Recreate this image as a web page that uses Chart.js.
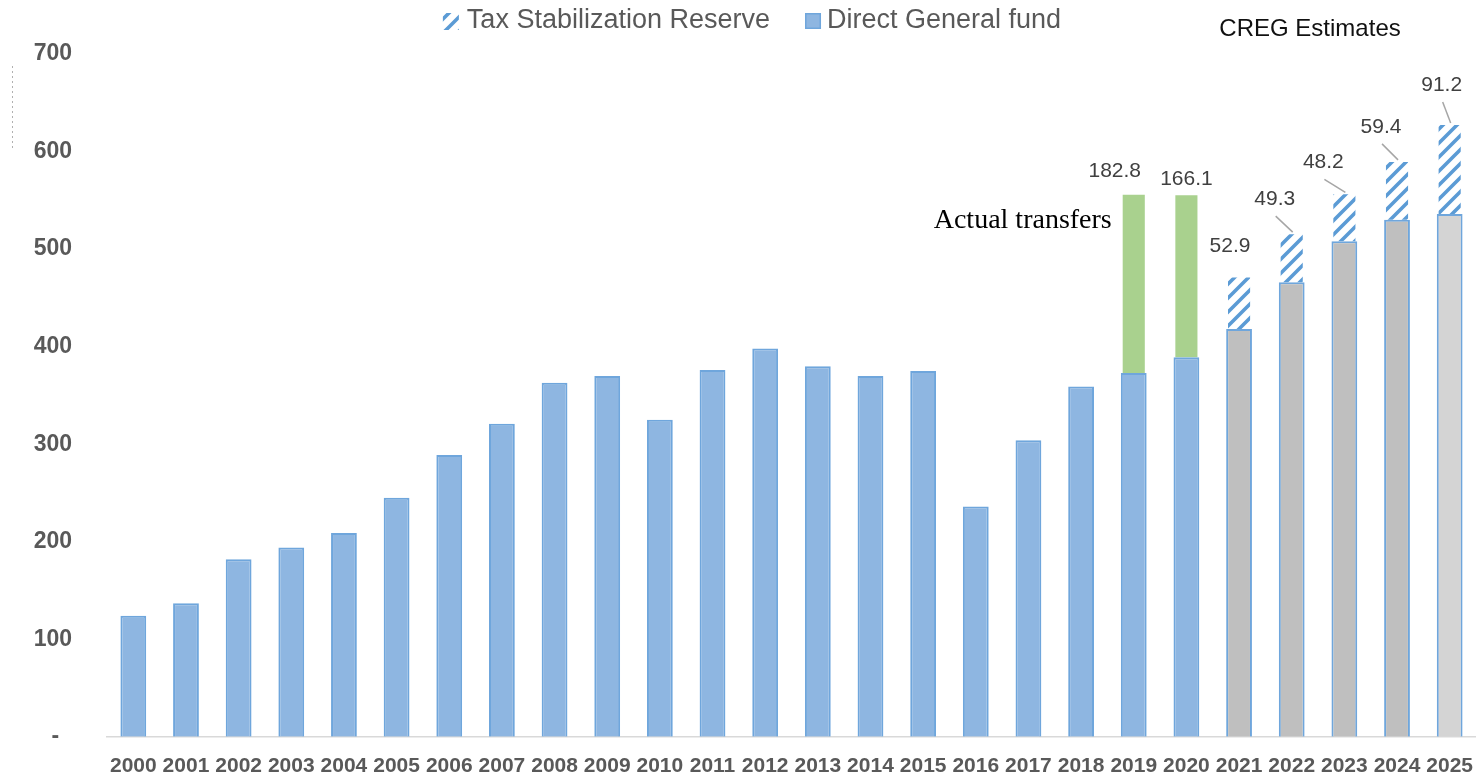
<!DOCTYPE html>
<html>
<head>
<meta charset="utf-8">
<script src="https://cdn.jsdelivr.net/npm/chart.js@4.4.0/dist/chart.umd.min.js"></script>
<style>
html, body { margin: 0; padding: 0; background: #fff; }
#wrap { width: 1476px; height: 778px; position: relative; }
</style>
</head>
<body>
<div id="wrap"><canvas id="chart"></canvas></div>
<script>
var years = ['2000', '2001', '2002', '2003', '2004', '2005', '2006', '2007', '2008', '2009',
    '2010', '2011', '2012', '2013', '2014', '2015', '2016', '2017', '2018', '2019',
    '2020', '2021', '2022', '2023', '2024', '2025'];

var directGeneralFund = [124, 137, 182, 194, 209, 245, 289, 321, 363, 370,
    325, 376, 398, 380, 370, 375, 236, 304, 359, 373,
    389, 418, 466, 508, 530, 536];

var actualTransfers = [null, null, null, null, null, null, null, null, null, null,
    null, null, null, null, null, null, null, null, null, 182.8,
    166.1, null, null, null, null, null];

var taxStabilizationReserve = [null, null, null, null, null, null, null, null, null, null,
    null, null, null, null, null, null, null, null, null, null,
    null, 52.9, 49.3, 48.2, 59.4, 91.2];

var yTicks = [0, 100, 200, 300, 400, 500, 600, 700];

var BLUE = 'rgb(142,182,225)';
var BLUE_EDGE = '#6fa6dc';
var HATCH = '#5b9bd5';
var GREY = '#bfbfbf';
var GREY_LIGHT = '#d4d4d4';
var GREEN = '#a9d18e';
var FONT = '"Liberation Sans", Arial, sans-serif';

// label offsets from the top of each bar: [dx, dy, leader line]
var labelOffsets = {
    '2019': [-19, -23, false],
    '2020': [0, -16, false],
    '2021': [-9, -31, false],
    '2022': [-17, -35, true],
    '2023': [-21, -32, true],
    '2024': [-16, -35, true],
    '2025': [-8, -40, true]
};

var canvas = document.getElementById('chart');
var ctx = canvas.getContext('2d');

function makeHatch(color) {
    var tile = document.createElement('canvas');
    tile.width = 14;
    tile.height = 14;
    var g = tile.getContext('2d');
    g.strokeStyle = color;
    g.lineWidth = 3.6;
    g.beginPath();
    g.moveTo(-2, 16); g.lineTo(16, -2);
    g.moveTo(-9, 9); g.lineTo(9, -9);
    g.moveTo(5, 23); g.lineTo(23, 5);
    g.stroke();
    return ctx.createPattern(tile, 'repeat');
}

var hatch = makeHatch(HATCH);

var directColors = years.map(function (y) {
    var n = parseInt(y, 10);
    if (n <= 2020) return BLUE;
    if (n === 2025) return GREY_LIGHT;
    return GREY;
});

var overlay = {
    id: 'overlay',
    afterDatasetsDraw: function (chart) {
        var c = chart.ctx;
        var xs = chart.scales.x, ys = chart.scales.y;
        c.save();

        // value labels on the transfer and reserve bars
        c.font = '21px ' + FONT;
        c.fillStyle = '#404040';
        c.textAlign = 'center';
        c.textBaseline = 'middle';
        [1, 2].forEach(function (di) {
            var vals = chart.data.datasets[di].data;
            chart.getDatasetMeta(di).data.forEach(function (bar, i) {
                if (vals[i] == null) return;
                var off = labelOffsets[years[i]];
                var lx = bar.x + off[0], ly = bar.y + off[1];
                if (off[2]) {
                    c.strokeStyle = '#a6a6a6';
                    c.lineWidth = 1.5;
                    c.beginPath();
                    c.moveTo(lx + 1, ly + 17);
                    c.lineTo(bar.x + 1, bar.y - 2);
                    c.stroke();
                }
                c.fillText(vals[i].toFixed(1), lx, ly);
            });
        });

        // annotations
        c.fillStyle = '#000';
        c.font = '28px "Liberation Serif", "Times New Roman", serif';
        c.textAlign = 'right';
        c.fillText('Actual transfers', xs.getPixelForValue(19) - 22, ys.getPixelForValue(529));

        c.fillStyle = '#111';
        c.font = '24px ' + FONT;
        c.textAlign = 'center';
        c.fillText('CREG Estimates', (xs.getPixelForValue(22) + xs.getPixelForValue(23)) / 2 - 8, 29);

        // legend
        var t1 = chart.data.datasets[2].label, t2 = chart.data.datasets[0].label;
        c.font = '27px ' + FONT;
        c.fillStyle = '#595959';
        c.textAlign = 'left';
        var w1 = c.measureText(t1).width, w2 = c.measureText(t2).width;
        var total = 16 + 8 + w1 + 35 + 16 + 6 + w2;
        var lx0 = 752 - total / 2, ly0 = 21;
        c.fillStyle = hatch;
        c.fillRect(lx0, ly0 - 8, 16, 17);
        c.fillStyle = '#595959';
        c.fillText(t1, lx0 + 24, ly0);
        var sx = lx0 + 24 + w1 + 35;
        c.fillStyle = BLUE;
        c.fillRect(sx, ly0 - 8, 16, 16);
        c.strokeStyle = BLUE_EDGE;
        c.lineWidth = 1.5;
        c.strokeRect(sx + 0.75, ly0 - 7.25, 14.5, 14.5);
        c.fillStyle = '#595959';
        c.fillText(t2, sx + 22, ly0);

        // faint dotted mark at the far left
        c.strokeStyle = '#b0b0b0';
        c.lineWidth = 1;
        c.setLineDash([2, 3]);
        c.beginPath();
        c.moveTo(12.5, 66);
        c.lineTo(12.5, 148);
        c.stroke();

        c.restore();
    }
};

new Chart(ctx, {
    type: 'bar',
    data: {
        labels: years,
        datasets: [{
            label: 'Direct General fund',
            data: directGeneralFund,
            backgroundColor: directColors,
            borderColor: BLUE_EDGE,
            borderWidth: 2,
            barPercentage: 0.49,
            categoryPercentage: 1
        }, {
            label: 'Actual transfers',
            data: actualTransfers,
            backgroundColor: GREEN,
            borderWidth: 0,
            barPercentage: 0.42,
            categoryPercentage: 1
        }, {
            label: 'Tax Stabilization Reserve',
            data: taxStabilizationReserve,
            backgroundColor: hatch,
            borderWidth: 0,
            barPercentage: 0.42,
            categoryPercentage: 1
        }]
    },
    options: {
        responsive: true,
        maintainAspectRatio: false,
        animation: false,
        layout: { padding: { top: 54, right: 0, bottom: -18, left: 0 } },
        plugins: {
            legend: { display: false },
            tooltip: { enabled: false }
        },
        scales: {
            x: {
                stacked: true,
                grid: { display: false, drawTicks: false },
                border: { display: true, color: '#d9d9d9', width: 1.5 },
                afterFit: function (scale) {
                    scale.paddingLeft = 0;
                    scale.paddingRight = 0;
                },
                ticks: {
                    autoSkip: false,
                    maxRotation: 0,
                    padding: 17,
                    color: '#595959',
                    font: { family: FONT, size: 21, weight: 'bold' }
                }
            },
            y: {
                stacked: true,
                min: yTicks[0],
                max: yTicks[yTicks.length - 1],
                afterBuildTicks: function (scale) {
                    scale.ticks = yTicks.map(function (v) { return { value: v }; });
                },
                afterFit: function (scale) {
                    scale.width = 107;
                    scale.paddingTop = 0;
                    scale.paddingBottom = 0;
                },
                grid: { display: false, drawTicks: false },
                border: { display: false },
                ticks: {
                    padding: 35,
                    color: '#595959',
                    font: { family: FONT, size: 23, weight: 'bold' },
                    callback: function (v) { return v === 0 ? '-  ' : v; }
                }
            }
        }
    },
    plugins: [overlay]
});
</script>
</body>
</html>
